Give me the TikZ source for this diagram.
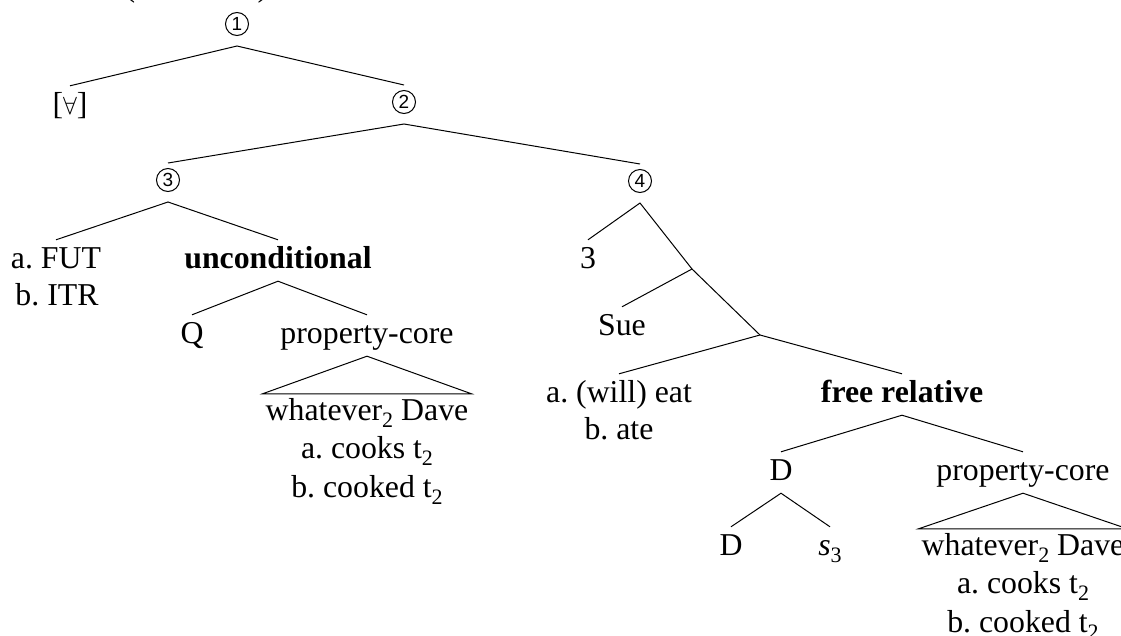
\documentclass[tikz,border=0pt]{standalone}
\usepackage{fontspec}
\setmainfont{Liberation Serif}
\newfontfamily\circfont{Liberation Sans}
\newcommand\lsub[1]{\raisebox{-0.22em}{\fontsize{22}{22}\selectfont #1}}
\begin{document}
\frenchspacing
\begin{tikzpicture}[x=1pt,y=-1pt,
  lab/.style={anchor=base, inner xsep=2pt, inner ysep=6pt, text height=22pt, text depth=7pt, font=\fontsize{31.8}{38}\selectfont\frenchspacing},
  circ/.style={circle, draw, line width=1pt, minimum size=23pt, inner sep=0pt, outer sep=0pt, font=\circfont\fontsize{19}{19}\selectfont},
  tri/.style={lab, inner xsep=3pt, text height=20pt},
  edge/.style={line width=1pt}]
\useasboundingbox (0,0) rectangle (1121,635);
% clipped parentheses at the top edge
\node[lab] (lp) at (130,-4) {(};
\node[lab] (rp) at (263,-4) {)};
% circled nodes
\node[circ] (n1) at (237,24) {1};
\node[circ] (n2) at (404,102) {2};
\node[circ] (n3) at (168,180) {3};
\node[circ] (n4) at (640,181) {4};
% labels
\node[lab] (fa) at (70,114) {[$\forall$]};
\node[lab] (fut) at (56,268) {a. FUT};
\node[lab] (itr) at (57,305) {b. ITR};
\node[lab] (unc) at (278,268) {\bfseries unconditional};
\node[lab] (q) at (192,343) {Q};
\node[lab] (pc1) at (367,343) {property-core};
\node[tri] (w1) at (367,420) {whatever\lsub{2} Dave};
\node[lab] (c1) at (367,458) {a. cooks t\lsub{2}};
\node[lab] (k1) at (367,497) {b. cooked t\lsub{2}};
\node[lab] (three) at (588,268) {3};
\coordinate (x1) at (692,269);
\node[lab] (sue) at (622,335) {Sue};
\coordinate (x2) at (760,335);
\node[lab] (eat) at (619,402) {a. (will) eat};
\node[lab] (ate) at (619,439) {b. ate};
\node[lab] (fr) at (902,402) {\bfseries free relative};
\node[lab] (dd) at (781,480) {D};
\node[lab] (pc2) at (1023,480) {property-core};
\node[lab] (dl) at (731,555) {D};
\node[lab] (s3) at (830,555) {\textit{s}\lsub{3}};
\node[tri] (w2) at (1023,555) {whatever\lsub{2} Dave};
\node[lab] (c2) at (1023,593) {a. cooks t\lsub{2}};
\node[lab] (k2) at (1023,632) {b. cooked t\lsub{2}};
% edges
\draw[edge] (fa.north) -- ([yshift=-10.5pt]n1.south) -- ([yshift=5.5pt]n2.north);
\draw[edge] ([yshift=5.5pt]n3.north) -- ([yshift=-10.5pt]n2.south) -- ([yshift=5.5pt]n4.north);
\draw[edge] (fut.north) -- ([yshift=-10.5pt]n3.south) -- (unc.north);
\draw[edge] (q.north) -- (unc.south) -- (pc1.north);
\draw[edge] (pc1.south) -- (w1.north west) -- (w1.north east) -- cycle;
\draw[edge] (three.north) -- ([yshift=-10.5pt]n4.south) -- (x1);
\draw[edge] (sue.north) -- (x1) -- (x2);
\draw[edge] (eat.north) -- (x2) -- (fr.north);
\draw[edge] (dd.north) -- (fr.south) -- (pc2.north);
\draw[edge] (dl.north) -- (dd.south) -- (s3.north);
\draw[edge] (pc2.south) -- (w2.north west) -- (w2.north east) -- cycle;
\end{tikzpicture}
\end{document}
